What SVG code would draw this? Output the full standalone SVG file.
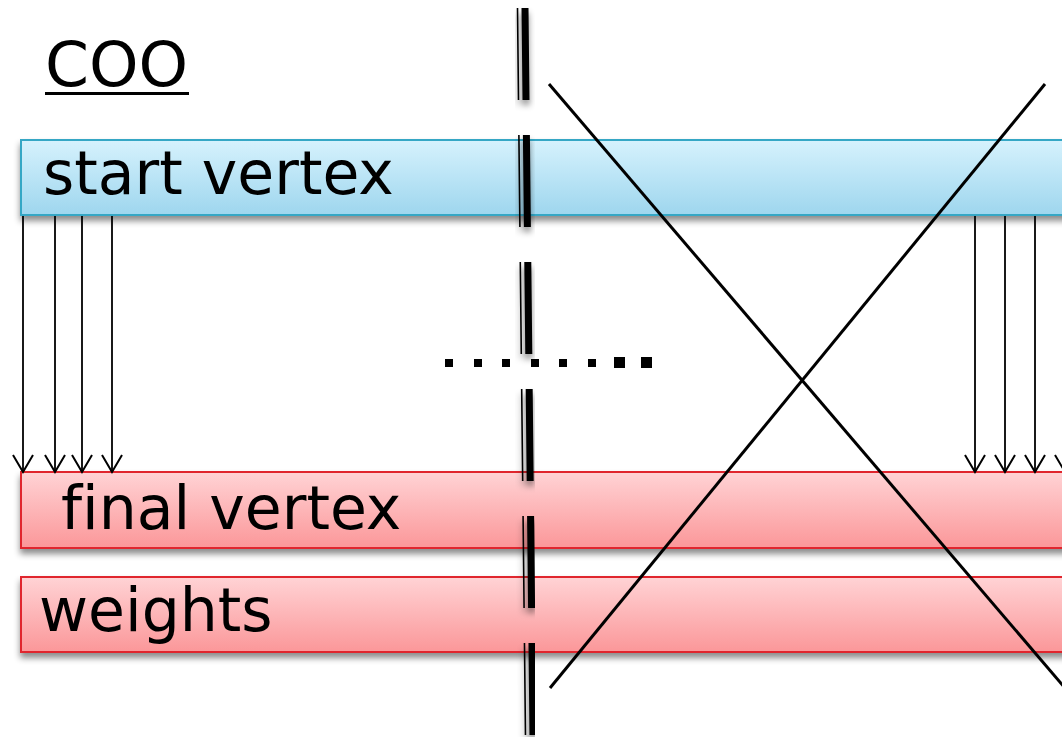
<svg xmlns="http://www.w3.org/2000/svg" width="1062" height="737" viewBox="0 0 1062 737">
<style>
.lbl{font-family:"DejaVu Sans",Verdana,sans-serif;font-size:60px;fill:#000;font-variant-ligatures:none}
.arr{stroke:#000;stroke-width:1.8;fill:none;marker-end:url(#ah)}
.x{stroke:#000;stroke-width:3;fill:none}
.dot{fill:#000}
</style>
<defs>
<linearGradient id="gb" x1="0" y1="0" x2="0" y2="1"><stop offset="0" stop-color="#d6f2fd"/><stop offset="1" stop-color="#9ed6ee"/></linearGradient>
<linearGradient id="gr" x1="0" y1="0" x2="0" y2="1"><stop offset="0" stop-color="#ffd3d5"/><stop offset="1" stop-color="#fb9799"/></linearGradient>
<filter id="sh" x="-0.1" y="-0.2" width="1.2" height="1.6"><feDropShadow dx="0" dy="5" stdDeviation="3" flood-color="#000" flood-opacity="0.45"/></filter>
<marker id="ah" markerWidth="20" markerHeight="22" refX="18" refY="11" orient="auto" markerUnits="userSpaceOnUse" viewBox="0 0 20 22"><path d="M1,1 L18,11 L1,21" fill="none" stroke="#000" stroke-width="2"/></marker>
</defs>
<g id="title">
<text x="45" y="86" style="font-family:'DejaVu Sans',Verdana,sans-serif;font-size:63px">COO</text>
<rect x="45" y="92" width="144" height="3" fill="#000"/>
</g>
<g id="start-vertex" filter="url(#sh)">
<rect x="21" y="140" width="1060" height="75" fill="url(#gb)" stroke="#36a7c5" stroke-width="2"/>
<text class="lbl" x="43" y="194">start vertex</text>
</g>
<g id="final-vertex" filter="url(#sh)">
<rect x="21" y="472" width="1060" height="76" fill="url(#gr)" stroke="#e0262f" stroke-width="2"/>
<text class="lbl" x="61" y="529">final vertex</text>
</g>
<g id="weights" filter="url(#sh)">
<rect x="21" y="577" width="1060" height="75" fill="url(#gr)" stroke="#e0262f" stroke-width="2"/>
<text class="lbl" x="39" y="631">weights</text>
</g>
<g id="connectors">
<line class="arr" x1="23" y1="216" x2="23" y2="472"/>
<line class="arr" x1="55" y1="216" x2="55" y2="472"/>
<line class="arr" x1="82" y1="216" x2="82" y2="472"/>
<line class="arr" x1="112" y1="216" x2="112" y2="472"/>
<line class="arr" x1="975" y1="216" x2="975" y2="472"/>
<line class="arr" x1="1005" y1="216" x2="1005" y2="472"/>
<line class="arr" x1="1035" y1="216" x2="1035" y2="472"/>
<line class="arr" x1="1065" y1="216" x2="1065" y2="472"/>
</g>
<g id="divider" filter="url(#sh)">
<line x1="517.5" y1="8" x2="525.5" y2="737" stroke="#000" stroke-width="1.6" stroke-dasharray="92 35"/>
<line x1="525" y1="8" x2="533" y2="737" stroke="#000" stroke-width="7" stroke-dasharray="92 35"/>
</g>
<g id="dots">
<rect class="dot" x="445" y="359" width="8" height="8"/>
<rect class="dot" x="474" y="359" width="8" height="8"/>
<rect class="dot" x="502" y="359" width="8" height="8"/>
<rect class="dot" x="531" y="359" width="8" height="8"/>
<rect class="dot" x="559" y="359" width="8" height="8"/>
<rect class="dot" x="588" y="359" width="8" height="8"/>
<rect class="dot" x="614" y="357" width="11" height="11"/>
<rect class="dot" x="641" y="357" width="11" height="11"/>
</g>
<g id="cross">
<line class="x" x1="549" y1="84" x2="1100" y2="729"/>
<line class="x" x1="550" y1="688" x2="1045" y2="84"/>
</g>
</svg>
